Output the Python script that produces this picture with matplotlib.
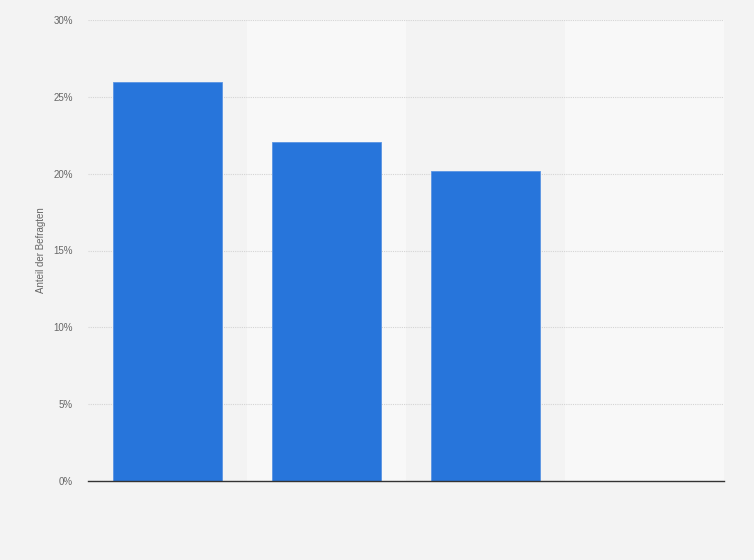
import numpy as np
import matplotlib.pyplot as plt

plt.rcParams['font.family'] = ['Liberation Sans', 'DejaVu Sans']

# values (share of respondents, %)
categories = ['A', 'B', 'C', 'D']
shares = [25.95, 22.05, 20.2, np.nan]
y_ticks = [0, 5, 10, 15, 20, 25, 30]

fig = plt.figure(figsize=(7.54, 5.60), dpi=100, facecolor='#f3f3f3')
ax = fig.add_axes([88 / 754, 79 / 560, 636 / 754, 461 / 560])
ax.set_facecolor('#f3f3f3')

x = np.arange(len(categories))

# alternating column bands
for i in x:
    if i % 2 == 1:
        ax.axvspan(i - 0.5, i + 0.5, color='#f8f8f8', zorder=0, lw=0)

ax.bar(x, shares, width=0.69, color='#2775db', edgecolor='#5a94e3', linewidth=0.6, zorder=3)

ax.set_xlim(-0.5, len(categories) - 0.5)
ax.set_ylim(0, 30)
ax.set_yticks(y_ticks)
ax.set_yticklabels([f'{t}%' for t in y_ticks], fontsize=7, color='#666666')
ax.set_xticks([])
ax.tick_params(axis='y', length=0, pad=11)

ax.grid(axis='y', color='#d4d4d4', linestyle=(0, (1, 1)), linewidth=0.8, zorder=1)
for s in ['top', 'right', 'left']:
    ax.spines[s].set_visible(False)
ax.spines['bottom'].set_color('#333333')
ax.spines['bottom'].set_linewidth(1.0)
ax.spines['bottom'].set_zorder(4)

ax.set_ylabel('Anteil der Befragten', fontsize=7, color='#666666', labelpad=5)

fig.savefig('out.png', dpi=100, facecolor=fig.get_facecolor())
